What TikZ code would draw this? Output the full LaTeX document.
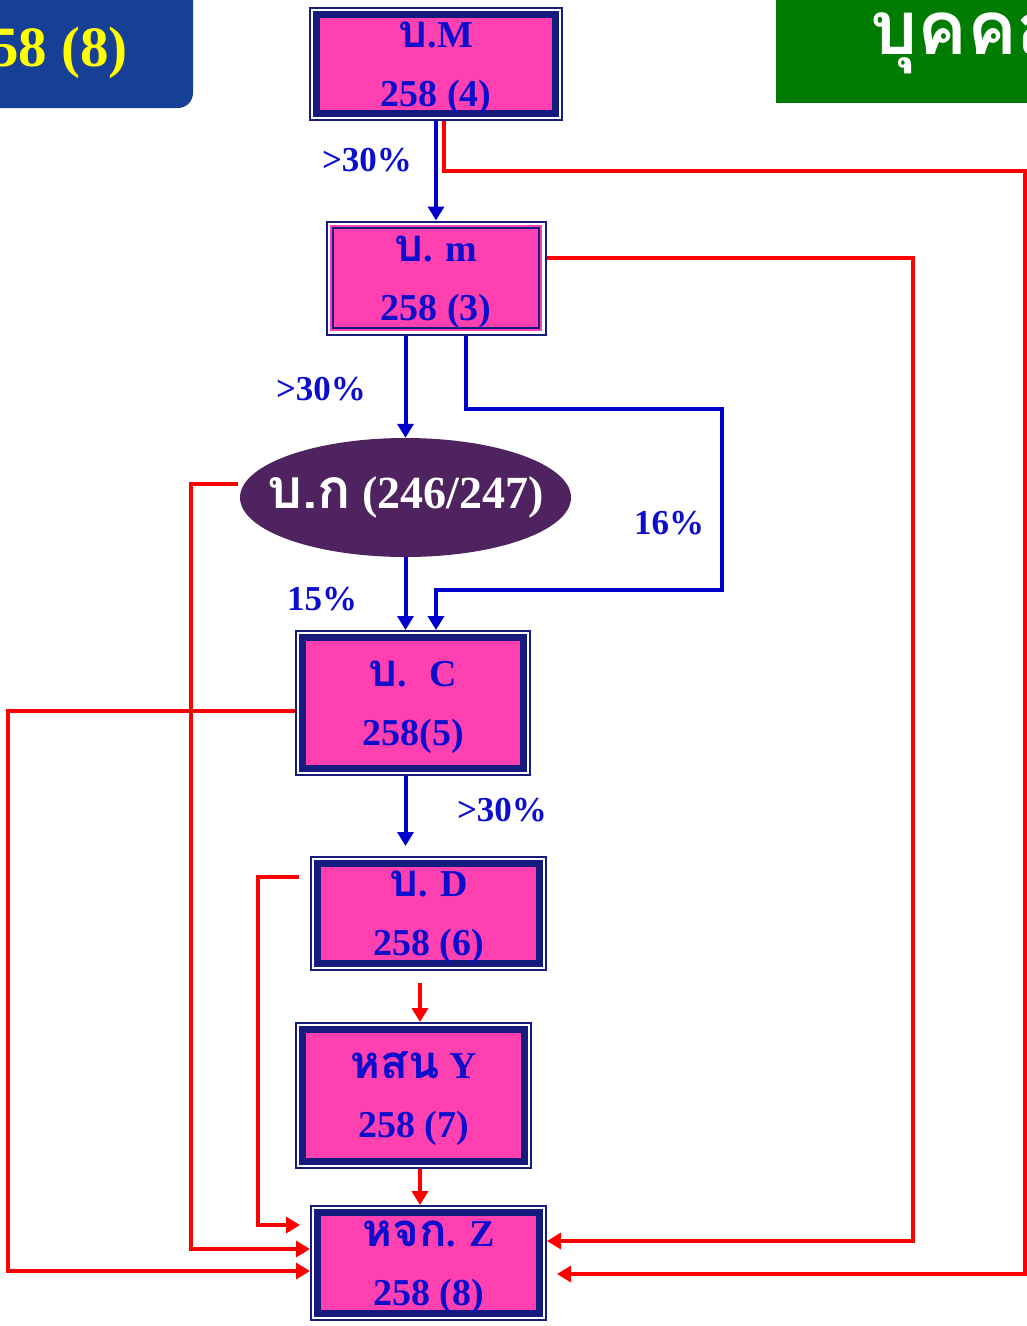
\documentclass[tikz,border=0pt]{standalone}
\usepackage{fontspec}
\setmainfont{Liberation Serif}
\newfontfamily\thaifont[Script=Thai,Scale=1.2]{Loma}
\usetikzlibrary{
arrows.meta,
shapes.geometric,
calc,
positioning
}
\definecolor{boxpink}{HTML}{FF40B0}
\definecolor{boxnavy}{HTML}{161B7E}
\definecolor{txtblue}{HTML}{0D0DCC}
\definecolor{linkblue}{HTML}{0000CC}
\definecolor{linkred}{HTML}{FF0000}
\definecolor{ellpurple}{HTML}{4F2260}
\definecolor{hdrblue}{HTML}{163F96}
\definecolor{hdrgreen}{HTML}{007D00}
\definecolor{hdryellow}{HTML}{FFFF00}

\tikzset{
  boxnode/.style={rectangle, inner sep=0pt, outer sep=7.5pt,
    preaction={draw=boxnavy, line width=15pt},
    preaction={draw=white, line width=11pt},
    fill=boxpink, draw=boxnavy, line width=7pt,
    text=txtblue, align=center, text height=84pt, text depth=0pt,
    font=\bfseries\fontsize{38}{59}\selectfont},
  boxthin/.style={boxnode,
    preaction={draw=boxpink, line width=6pt}, line width=2.5pt},
  ellnode/.style={ellipse, inner sep=0pt, fill=ellpurple, text=white,
    font=\bfseries\fontsize{46}{50}\selectfont},
  pctlabel/.style={text=txtblue, font=\bfseries\fontsize{35}{40}\selectfont},
  bluearr/.style={draw=linkblue, line width=4pt, -{Triangle[width=16pt,length=14pt]}},
  redarr/.style={draw=linkred, line width=4pt, -{Triangle[width=16pt,length=14pt]}}
}

\begin{document}
\begin{tikzpicture}[x=1pt,y=-1pt]
  \useasboundingbox (0,0) rectangle (1027,1326);

  % headers
  \fill[hdrblue, rounded corners=15pt] (-30,-30) rectangle (193,108);
  \node[anchor=base west, inner sep=0pt, text=hdryellow,
        font=\bfseries\fontsize{57}{60}\selectfont] (hdrnum) at (-10,66) {58 (8)};
  \fill[hdrgreen] (776,-10) rectangle (1040,103);
  \node[anchor=base west, inner sep=0pt, text=white,
        font=\thaifont\bfseries\fontsize{62}{70}\selectfont] (hdrtxt) at (870,54) {บุคคล};

  % boxes
  \node[boxnode, minimum width=239pt, minimum height=99pt] (M) at (436,64)
       {{\thaifont บ}.M\\258 (4)};
  \node[boxthin, minimum width=206pt, minimum height=100pt] (m) at (436,278)
       {{\thaifont บ}. m\\258 (3)};
  \node[ellnode, minimum width=331pt, minimum height=119pt] (ell) at (405.5,497.5)
       {\makebox[200pt]{{\thaifont บ.ก} (246/247)}};
  \node[boxnode, minimum width=221pt, minimum height=131pt] (C) at (413,703)
       {{\thaifont บ}.~ C\\258(5)};
  \node[boxnode, minimum width=222pt, minimum height=100pt] (D) at (428.5,913.5)
       {{\thaifont บ}. D\\258 (6)};
  \node[boxnode, minimum width=222pt, minimum height=132pt] (Y) at (413.5,1095.5)
       {{\thaifont หสน} Y\\258 (7)};
  \node[boxnode, minimum width=222pt, minimum height=101pt] (Z) at (428.5,1263)
       {{\thaifont หจก}. Z\\258 (8)};

  % percentages
  \node[pctlabel] (p1) at (367,160) {>30\%};
  \node[pctlabel] (p2) at (321,389) {>30\%};
  \node[pctlabel] (p3) at (669,523) {16\%};
  \node[pctlabel] (p4) at (322,599) {15\%};
  \node[pctlabel] (p5) at (502,810) {>30\%};

  % blue links
  \draw[bluearr] (M.south) -- (m.north);
  \draw[bluearr] (m.south -| ell.north) -- (ell.north);
  \draw[bluearr] ([xshift=30pt]m.south) -- ++(0,73) -| (722,590) -| ([xshift=23pt]C.north);
  \draw[bluearr] (ell.south) -- (ell.south |- C.north);
  \draw[bluearr, shorten >=10pt] (C.south -| ell.south) -- (ell.south |- D.north);

  % red links
  \draw[redarr, shorten <=12pt] ([xshift=-8.5pt]D.south) -- ([xshift=-8.5pt]D.south |- Y.north);
  \draw[redarr] ([xshift=6.5pt]Y.south) -- ([xshift=6.5pt]Y.south |- Z.north);
  \draw[redarr, shorten <=11pt, shorten >=10pt] ([yshift=36.5pt]D.west) -- ++(-52,0) |- ([yshift=38pt]Z.west);
  \draw[redarr, shorten <=2pt] ([yshift=13.5pt]ell.west) -- ++(-49,0) |- ([yshift=14pt]Z.west);
  \draw[redarr] ([yshift=-8pt]C.west) -- ++(-287,0) |- ([yshift=-8pt]Z.west);
  \draw[redarr] ([yshift=20pt]m.east) -- ++(366,0) |- ([yshift=22pt]Z.east);
  \draw[redarr, shorten >=10pt] ([xshift=8pt]M.south) |- (1025,171) |- ([yshift=-11pt]Z.east);
\end{tikzpicture}
\end{document}
